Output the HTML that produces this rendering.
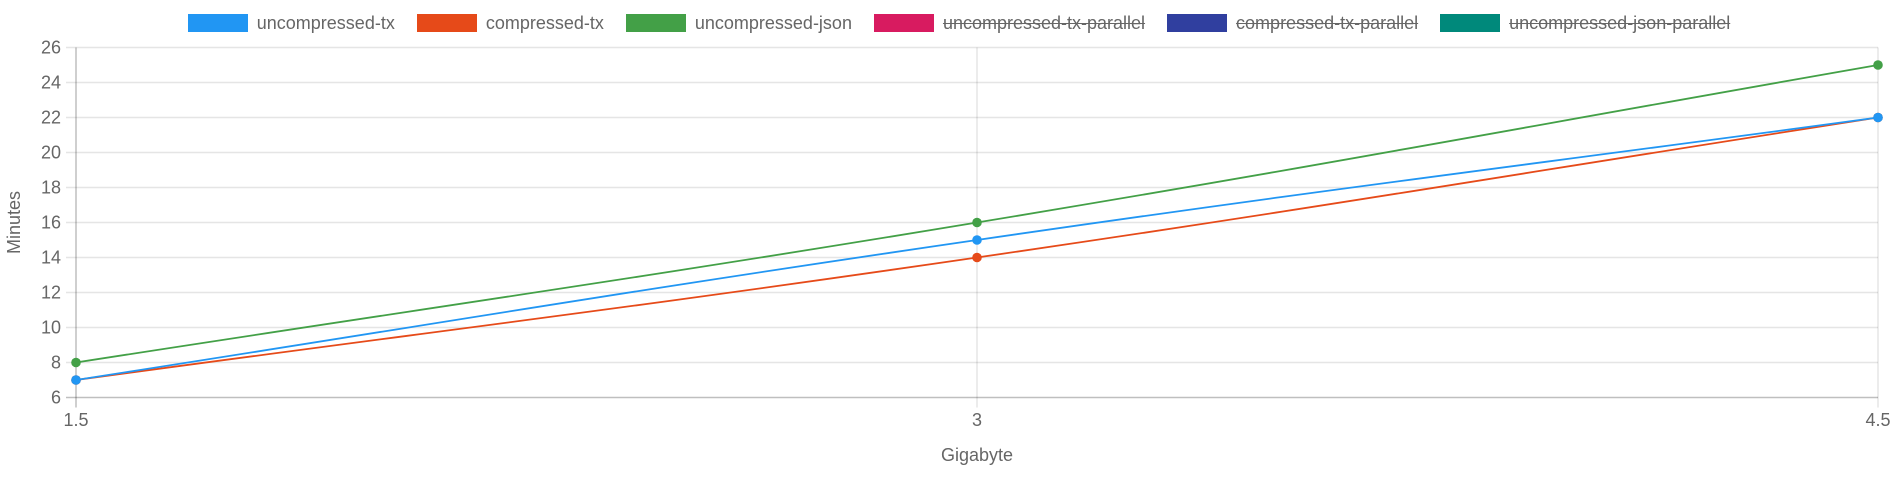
<!DOCTYPE html>
<html><head><meta charset="utf-8"><style>
html,body{margin:0;padding:0;background:#fff;}
body{width:1902px;height:480px;overflow:hidden;font-family:"Liberation Sans",Arial,sans-serif;}
#legend{position:absolute;top:13px;left:16px;width:1886px;display:flex;justify-content:center;}
.item{display:flex;align-items:center;height:20px;margin:0 11px;cursor:pointer;}
.box{width:60px;height:18px;margin-right:9px;box-sizing:border-box;}
.lab{font-size:18px;color:#666;line-height:20px;}
.off{text-decoration:line-through;}
</style></head><body>
<div id="legend">
<div class="item"><div class="box" style="background:#2196F3"></div><span class="lab">uncompressed-tx</span></div>
<div class="item"><div class="box" style="background:#E64A19"></div><span class="lab">compressed-tx</span></div>
<div class="item"><div class="box" style="background:#43A047"></div><span class="lab">uncompressed-json</span></div>
<div class="item"><div class="box" style="background:#D81B60"></div><span class="lab off">uncompressed-tx-parallel</span></div>
<div class="item"><div class="box" style="background:#303F9F"></div><span class="lab off">compressed-tx-parallel</span></div>
<div class="item"><div class="box" style="background:#00897B"></div><span class="lab off">uncompressed-json-parallel</span></div>
</div>
<svg id="chart" width="1902" height="480" style="position:absolute;left:0;top:0"></svg>
<script>
const xValues=[1.5,3,4.5];
const xTicks=[1.5,3,4.5];
const yTicks=[6,8,10,12,14,16,18,20,22,24,26];
const seriesNames=["uncompressed-tx","compressed-tx","uncompressed-json"];
const seriesColors=["#2196F3","#E64A19","#43A047"];
const uncompressedTx=[7,15,22];
const compressedTx=[7,14,22];
const uncompressedJson=[8,16,25];
const allSeries=[uncompressedTx,compressedTx,uncompressedJson];

const L=76,R=1878,T=47.5,B=397.5;
const xMin=1.5,xMax=4.5,yMin=6,yMax=26;
const sx=v=>L+(v-xMin)/(xMax-xMin)*(R-L);
const sy=v=>B-(v-yMin)/(yMax-yMin)*(B-T);
const NS="http://www.w3.org/2000/svg";
const svg=document.getElementById('chart');
function mk(t,a,p){const e=document.createElementNS(NS,t);for(const k in a)e.setAttribute(k,a[k]);(p||svg).appendChild(e);return e;}
yTicks.forEach(v=>{
  const g=mk('line',{x1:L-10,x2:R,y1:sy(v),y2:sy(v),stroke:v===yMin?'rgba(0,0,0,0.25)':'rgba(0,0,0,0.1)','stroke-width':1.5});
  
  
  const t=mk('text',{x:L-15,y:sy(v)+6,'text-anchor':'end','font-size':18,fill:'#666','font-family':'Liberation Sans, Arial, sans-serif'});
  t.textContent=v;
  
  
});
xTicks.forEach((v,i)=>{
  const g=mk('line',{x1:sx(v),x2:sx(v),y1:T,y2:B+10,stroke:i===0?'rgba(0,0,0,0.25)':'rgba(0,0,0,0.1)','stroke-width':1.5});
  
  
  const t=mk('text',{x:sx(v),y:426,'text-anchor':'middle','font-size':18,fill:'#666','font-family':'Liberation Sans, Arial, sans-serif'});
  t.textContent=v;
  
  
});
const xt=mk('text',{x:(L+R)/2,y:461,'text-anchor':'middle','font-size':18,fill:'#666','font-family':'Liberation Sans, Arial, sans-serif'});
xt.textContent='Gigabyte';


const yt=mk('text',{x:0,y:0,'text-anchor':'middle','font-size':18,fill:'#666','font-family':'Liberation Sans, Arial, sans-serif',transform:'translate(20,'+((T+B)/2)+') rotate(-90)'});
yt.textContent='Minutes';


function ctrl(p0,p1,p2,t){
  const d01=Math.hypot(p1.x-p0.x,p1.y-p0.y),d12=Math.hypot(p2.x-p1.x,p2.y-p1.y);
  let fa=d01/(d01+d12)||0,fb=d12/(d01+d12)||0;fa*=t;fb*=t;
  return {p:{x:p1.x-fa*(p2.x-p0.x),y:p1.y-fa*(p2.y-p0.y)},n:{x:p1.x+fb*(p2.x-p0.x),y:p1.y+fb*(p2.y-p0.y)}};
}
for(let si=allSeries.length-1;si>=0;si--){
  const data=allSeries[si];
  const pts=data.map((v,i)=>({x:sx(xValues[i]),y:sy(v)}));
  const cps=pts.map((p,i)=>ctrl(pts[Math.max(0,i-1)],p,pts[Math.min(pts.length-1,i+1)],0.4));
  let d='M'+pts[0].x+','+pts[0].y;
  for(let i=1;i<pts.length;i++){
    const a=cps[i-1].n,b=cps[i].p;
    d+=' C'+a.x+','+a.y+' '+b.x+','+b.y+' '+pts[i].x+','+pts[i].y;
  }
  const path=mk('path',{d:d,fill:'none',stroke:seriesColors[si],'stroke-width':1.8});
  
  
  data.forEach((v,i)=>{
    const c=mk('circle',{cx:sx(xValues[i]),cy:sy(v),r:4.8,fill:seriesColors[si]});
    
    
  });
}
</script>
</body></html>
